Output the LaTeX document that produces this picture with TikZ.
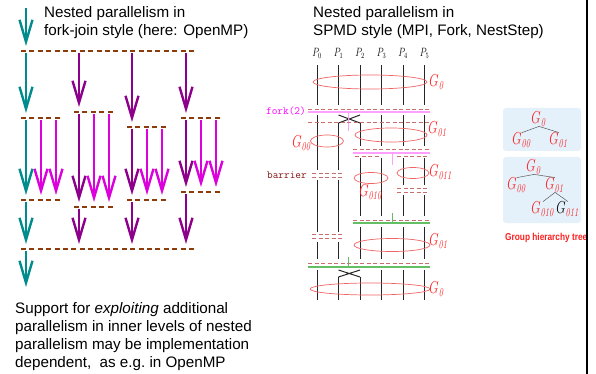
\documentclass[tikz,border=0pt]{standalone}
\usepackage[no-math]{fontspec}
\usepackage{graphicx}
\newfontfamily\sansfont{Liberation Sans}
\newfontfamily\narrowfont{Liberation Sans}[FakeStretch=0.83]
\usetikzlibrary{arrows.meta}

\definecolor{fjteal}{RGB}{0,140,140}
\definecolor{fjpurple}{RGB}{140,0,140}
\definecolor{fjmagenta}{RGB}{220,0,220}
\definecolor{barbrown}{RGB}{140,60,10}
\definecolor{grpred}{RGB}{255,30,30}
\definecolor{ringred}{RGB}{240,100,100}
\definecolor{syncred}{RGB}{200,110,110}
\definecolor{forkpink}{RGB}{255,160,255}
\definecolor{forktext}{RGB}{255,0,255}
\definecolor{barriertext}{RGB}{130,20,20}
\definecolor{joingreen}{RGB}{100,190,100}
\definecolor{panelblue}{RGB}{228,241,251}

\newcommand{\gname}[1]{\scalebox{0.7}[1]{$G_{\mathit{#1}}$}}
\newcommand{\gnameb}[1]{\scalebox{0.7}[1]{$\color{black}G_{\color{grpred}\mathit{#1}}$}}
\newcommand{\pname}[1]{\scalebox{0.75}[1]{$P_{#1}$}}

\begin{document}
\begin{tikzpicture}[x=1pt, y=-1pt,
    fjbar/.style={draw=barbrown, line width=2.4pt, dash pattern=on 5pt off 3.4pt},
    fjarr/.style={-{Straight Barb[length=22pt, width=13pt]}, line width=2.4pt, shorten <=2pt, shorten >=5pt},
    proc/.style={draw=black!85, line width=1pt},
    ring/.style={draw=ringred, line width=0.7pt},
    syncdash/.style={draw=syncred, line width=0.8pt, dash pattern=on 4pt off 2.5pt},
    forkline/.style={draw=forkpink, line width=1.6pt},
    forktick/.style={draw=forkpink, line width=0.8pt},
    joinline/.style={draw=joingreen, line width=1.2pt},
    glab/.style={text=grpred, font=\fontsize{18}{18}\selectfont, inner sep=0pt},
    plab/.style={font=\fontsize{12}{12}\selectfont, inner sep=0pt, anchor=base},
    txt/.style={font=\sansfont\fontsize{15.2}{18}\selectfont, align=left, inner sep=0pt, anchor=base west},
    code/.style={font=\ttfamily\fontsize{11}{11}\selectfont, inner sep=0pt, anchor=east},
    panel/.style={fill=panelblue, rounded corners=3pt},
    tedge/.style={draw=black!65, line width=0.5pt}
]
\useasboundingbox (0,0) rectangle (596,374);

% fork-join style (OpenMP)
\node[txt] (fjtitle) at (44,36) {Nested parallelism in\\fork-join style (here: OpenMP)};
\coordinate (start) at (26,8);
\coordinate (end)   at (26,292);
\draw[fjbar] (21,51) -- (195,51);
\draw[fjbar] (21,249) -- (195,249);
\foreach \c/\x/\f/\j/\col in {1/26/118/200/fjteal, 2/79/112/207/fjpurple, 3/132/127/200/fjpurple, 4/186/118/192/fjpurple}{
    \coordinate (in\c)   at (\x,51);
    \coordinate (fork\c) at (\x,\f);
    \coordinate (join\c) at (\x,\j);
    \coordinate (out\c)  at (\x,249);
    \draw[fjbar] ([xshift=-5pt]fork\c) -- ([xshift=34pt]fork\c);
    \draw[fjbar] ([xshift=-5pt]join\c) -- ([xshift=34pt]join\c);
    \draw[fjarr, draw=\col] (in\c) -- (fork\c);
    \draw[fjarr, draw=\col] (fork\c) -- (join\c);
    \draw[fjarr, draw=\col] (join\c) -- (out\c);
    \foreach \dx in {15,30}
        \draw[fjarr, draw=fjmagenta] ([xshift=\dx pt]fork\c) -- ([xshift=\dx pt]join\c);
}
\draw[fjarr, draw=fjteal, shorten <=0pt] (start) -- (in1);
\draw[fjarr, draw=fjteal] (out1) -- (end);

\node[txt] (fjnote) at (15,367) {Support for \textit{exploiting} additional\\parallelism in inner levels of nested\\parallelism may be implementation\\dependent,\ \ as e.g.\ in OpenMP};

% SPMD style
\node[txt] (sptitle) at (313,36) {Nested parallelism in\\SPMD style (MPI, Fork, NestStep)};
\foreach \i/\x in {0/317,1/338.5,2/360,3/381.5,4/403,5/424.5}
    \node[plab] (p\i) at (\x,57) {\pname{\i}};

% process time lines
\foreach \x in {317,338.5,360,381.5,403,424.5}
    \draw[proc] (\x,65) -- (\x,105);
\foreach \x in {317,338.5}{
    \draw[proc] (\x,180) -- (\x,232);
    \draw[proc] (\x,242) -- (\x,259);
}
\draw[proc] (317,115) -- (317,170);
\draw[proc] (338.5,123) -- (338.5,170);
\draw[proc] (360,123) -- (360,146);
\foreach \x in {381.5,403,424.5}
    \draw[proc] (\x,115) -- (\x,146);
\foreach \x in {360,381.5}
    \draw[proc] (\x,158) -- (\x,216);
\foreach \x in {403,424.5}{
    \draw[proc] (\x,158) -- (\x,185);
    \draw[proc] (\x,195) -- (\x,216);
}
\foreach \x in {360,381.5,403,424.5}
    \draw[proc] (\x,227) -- (\x,259);
\foreach \x in {317,381.5,403,424.5}
    \draw[proc] (\x,270) -- (\x,300);
\draw[proc] (338.5,277) -- (338.5,300);
\draw[proc] (360,277) -- (360,300);
% swaps
\draw[proc] (338.5,115) -- (360,123) (360,115) -- (338.5,123);
\draw[proc] (338.5,270) -- (360,277) (360,270) -- (338.5,277);

% groups
\draw[ring] (370,82) ellipse [x radius=57pt, y radius=7pt];
\draw[ring] (327,141) ellipse [x radius=16.5pt, y radius=6pt];
\draw[ring] (391,135) ellipse [x radius=36pt, y radius=7pt];
\draw[ring] (371,178) ellipse [x radius=17pt, y radius=5.5pt];
\draw[ring] (413,173) ellipse [x radius=16pt, y radius=5.5pt];
\draw[ring] (392,245) ellipse [x radius=38pt, y radius=6.5pt];
\draw[ring] (370,289) ellipse [x radius=60pt, y radius=6pt];
\node[glab] (g0)    at (437,82)  {\gname{0}};
\node[glab] (g00)   at (302,143) {\gname{00}};
\node[glab] (g01)   at (438,129) {\gname{01}};
\node[glab] (g010)  at (371,192) {\gname{010}};
\node[glab] (g011)  at (441,172) {\gname{011}};
\node[glab] (g01b)  at (439,241) {\gname{01}};
\node[glab] (g0b)   at (437,289) {\gname{0}};

% fork
\node[code, text=forktext] (forklab) at (306,111) {fork(2)};
\draw[syncdash] (308,109) -- (430,109);
\draw[forkline] (308,112) -- (430,112);
\draw[forktick] (348,112) -- (348,131);
\draw[syncdash] (308,122) -- (430,122);
\draw[syncdash] (353,149) -- (430,149);
\draw[forkline] (353,153) -- (430,153);
\draw[syncdash] (355,156) -- (381,156) (397,156) -- (428,156);
\draw[forktick] (392,153) -- (392,165);

% barriers
\node[code, text=barriertext] (barlab) at (307,175) {barrier};
\draw[syncdash] (312,173) -- (342,173) (312,177) -- (342,177);
\draw[syncdash] (312,234) -- (342,234) (312,238) -- (342,238);
\draw[syncdash] (397,188) -- (428,188) (397,192) -- (428,192);

% joins
\draw[syncdash] (353,220) -- (430,220);
\draw[joinline] (353,223) -- (430,223);
\draw[joinline, line width=0.8pt] (392,213) -- (392,223);
\draw[syncdash] (308,263) -- (430,263);
\draw[joinline] (308,267) -- (430,267);
\draw[joinline, line width=0.8pt] (348,257) -- (348,267);

% group hierarchy trees
\path[panel] (503,108) rectangle (581,151);
\node[glab] (t1g0)  at (539,119) {\gname{0}};
\node[glab] (t1g00) at (522,140) {\gname{00}};
\node[glab] (t1g01) at (559,140) {\gname{01}};
\draw[tedge] (t1g0.south) -- (t1g00.north);
\draw[tedge] (t1g0.south) -- (t1g01.north);

\path[panel] (503,157) rectangle (581,223);
\node[glab] (t2g0)   at (534,167) {\gname{0}};
\node[glab] (t2g00)  at (517,185) {\gname{00}};
\node[glab] (t2g01)  at (555,185) {\gname{01}};
\node[glab] (t2g010) at (543,209) {\gname{010}};
\node[glab] (t2g011) at (568,209) {\gnameb{011}};
\draw[tedge] (t2g0.south) -- (t2g00.north);
\draw[tedge] (t2g0.south) -- (t2g01.north);
\draw[tedge] (t2g01.south) -- (t2g010.north);
\draw[tedge] (t2g01.south) -- (t2g011.north);

\node[font=\narrowfont\bfseries\fontsize{10}{10}\selectfont, text=grpred, inner sep=0pt, anchor=base west] (treelab) at (505,240) {Group hierarchy tree};

\draw[line width=2.5pt] (587,0) -- (587,374);
\end{tikzpicture}
\end{document}
